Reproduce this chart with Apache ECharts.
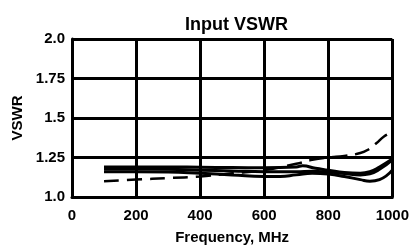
<!DOCTYPE html>
<html>
<head>
<meta charset="utf-8">
<script src="https://cdn.jsdelivr.net/npm/echarts@6/dist/echarts.min.js"></script>
<style>
  html, body { margin: 0; padding: 0; background: #fff; }
  #chart { width: 412px; height: 250px; }
</style>
</head>
<body>
<div id="chart"></div>
<script>
const yTickLabels = { '1': '1.0', '1.25': '1.25', '1.5': '1.5', '1.75': '1.75', '2': '2.0' }

// [MHz, VSWR]
const vswrA = [[100, 1.19], [200, 1.19], [300, 1.19], [400, 1.188], [500, 1.186], [600, 1.185], [700, 1.19], [720, 1.197], [760, 1.182], [800, 1.17], [850, 1.155], [900, 1.15], [930, 1.16], [960, 1.19], [1000, 1.24]]
const vswrB = [[100, 1.178], [200, 1.177], [300, 1.175], [400, 1.17], [500, 1.165], [600, 1.16], [700, 1.16], [750, 1.163], [800, 1.158], [850, 1.148], [900, 1.14], [930, 1.147], [960, 1.175], [1000, 1.235]]
const vswrC = [[100, 1.16], [200, 1.16], [300, 1.158], [400, 1.15], [500, 1.14], [600, 1.13], [650, 1.13], [700, 1.14], [750, 1.15], [800, 1.145], [850, 1.13], [900, 1.11], [930, 1.1], [960, 1.11], [1000, 1.17]]
const vswrDash = [[100, 1.1], [200, 1.11], [300, 1.12], [400, 1.13], [500, 1.15], [600, 1.17], [700, 1.21], [750, 1.235], [800, 1.25], [850, 1.26], [900, 1.278], [925, 1.3], [950, 1.34], [975, 1.385], [1000, 1.41]]

const font = 'Liberation Sans, Arial, sans-serif'

let chart = echarts.init(document.getElementById('chart'))

function solid (data) {
  return {
    type: 'line',
    data: data,
    smooth: true,
    symbol: 'none',
    lineStyle: { color: '#000', width: 3 }
  }
}

let option = {
  animation: false,
  title: {
    text: 'Input VSWR',
    left: 180,
    top: 11,
    textStyle: { fontFamily: font, fontSize: 18, fontWeight: 'bold', color: '#000' }
  },
  grid: { left: 72, right: 17, top: 39, bottom: 52 },
  xAxis: {
    type: 'value',
    min: 0,
    max: 1000,
    interval: 200,
    name: 'Frequency, MHz',
    nameLocation: 'middle',
    nameGap: 33,
    nameTextStyle: { fontFamily: font, fontSize: 15, fontWeight: 'bold', color: '#000' },
    axisLine: { show: true, lineStyle: { color: '#000', width: 3 } },
    axisTick: { show: false },
    axisLabel: {
      fontFamily: font, fontSize: 15, fontWeight: 'bold', color: '#000', margin: 11,
      formatter: v => String(v)
    },
    splitLine: { show: true, lineStyle: { color: '#000', width: 3 } }
  },
  yAxis: {
    type: 'value',
    min: 1,
    max: 2,
    interval: 0.25,
    name: 'VSWR',
    nameLocation: 'middle',
    nameGap: 45,
    nameTextStyle: { fontFamily: font, fontSize: 15, fontWeight: 'bold', color: '#000' },
    axisLine: { show: true, lineStyle: { color: '#000', width: 3 } },
    axisTick: { show: false },
    axisLabel: {
      fontFamily: font, fontSize: 15, fontWeight: 'bold', color: '#000', margin: 7,
      formatter: v => yTickLabels[String(v)] || ''
    },
    splitLine: { show: true, lineStyle: { color: '#000', width: 3 } }
  },
  series: [
    solid(vswrA),
    solid(vswrB),
    solid(vswrC),
    {
      type: 'line',
      data: vswrDash,
      smooth: true,
      symbol: 'none',
      lineStyle: { color: '#000', width: 2.5, type: [15, 8] }
    }
  ]
}
chart.setOption(option)
</script>
</body>
</html>
